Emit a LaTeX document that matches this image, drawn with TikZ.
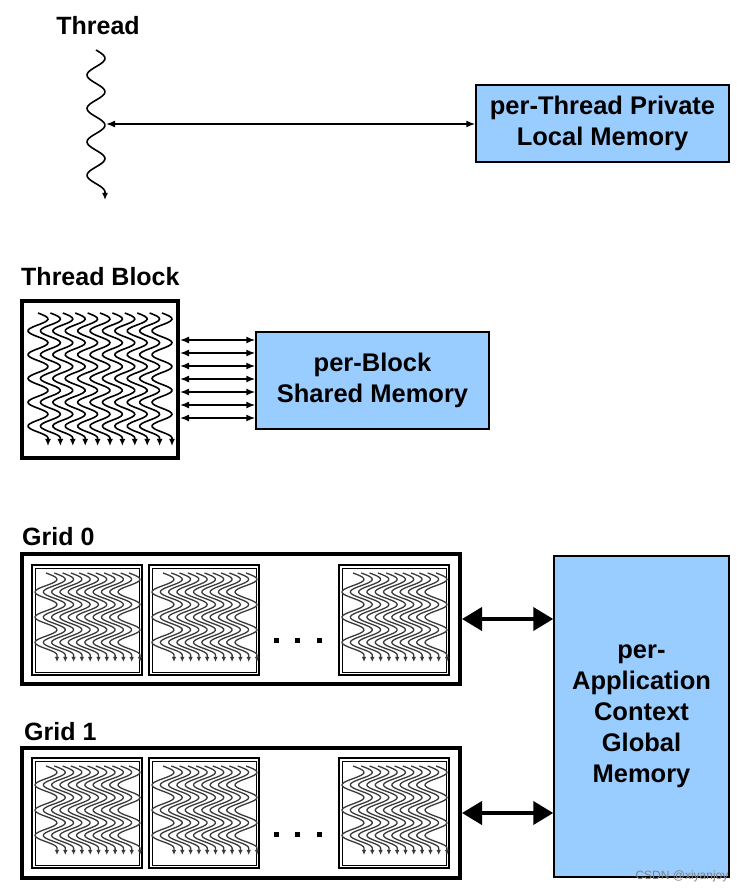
\documentclass[tikz,border=0pt]{standalone}
\usepackage{fontspec}
\setmainfont{Liberation Sans}
\usetikzlibrary{arrows.meta}
\tikzset{>=latex}
\definecolor{memblue}{HTML}{99CCFF}
\definecolor{threadgray}{HTML}{3A3A3A}
\tikzset{
  lbl/.style={inner sep=0pt, font=\fontsize{25}{30}\selectfont\bfseries},
  membox/.style={draw, line width=1.5pt, fill=memblue, align=center, inner sep=0pt, font=\fontsize{25.5}{31}\selectfont\bfseries},
  framebox/.style={draw, line width=4pt, inner sep=0pt},
  link/.style={{Latex[length=9pt,width=7pt]}-{Latex[length=9pt,width=7pt]}, line width=1.5pt},
  biglink/.style={{Triangle[length=20pt,width=23pt]}-{Triangle[length=20pt,width=23pt]}, line width=4pt},
  bthread/.style={-{Latex[length=7pt,width=6pt]}, line width=1.6pt},
  gthread/.style={-{Latex[length=5pt,width=4.5pt]}, threadgray, line width=1.3pt},
  gblock/.pic={
    \draw[line width=1.5pt] (0,0) rectangle (110,110);
    \draw[line width=1pt] (3,3) rectangle (107,107);
    \foreach \i in {0,...,10}
      \draw[gthread] plot[domain=0:1, samples=61, smooth] ({14+8.3*\i+11*sin(3.25*360*\x)}, {8+82*\x}) -- ++(0,7);
  }
}
\begin{document}
\begin{tikzpicture}[x=1pt, y=-1pt]
  \useasboundingbox (0,0) rectangle (746,892);
  \node[lbl] (thrlbl) at (98,26) {Thread};
  \node[membox, minimum width=253pt, minimum height=77pt] (local) at (602.5,123.5) {per-Thread Private\\Local Memory};
  \draw[bthread] plot[domain=0:1, samples=81, smooth] ({96+9*sin(4.25*360*\x)}, {50+142*\x}) -- ++(0,8);
  \coordinate (thr) at (106,124);
  \draw[link] (thr) -- (thr -| local.west);

  \node[lbl, anchor=west] (blklbl) at (21,277) {Thread Block};
  \node[framebox, minimum width=156pt, minimum height=157pt] (tblock) at (100,379.5) {};
  \foreach \i in {0,...,10}
    \draw[bthread] plot[domain=0:1, samples=81, smooth] ({38+12.4*\i+10*sin(5.25*360*\x)}, {313+125*\x}) -- ++(0,8);
  \node[membox, minimum width=233pt, minimum height=97pt] (shared) at (372.5,380.5) {per-Block\\Shared Memory};
  \foreach \y in {340,353,...,418}
    \draw[link] (tblock.east |- 0,\y) -- (shared.west |- 0,\y);

  \node[lbl, anchor=west] (g0lbl) at (22,537) {Grid 0};
  \node[framebox, minimum width=438pt, minimum height=130pt] (grid0) at (241,619) {};
  \foreach \bx in {32,149,339}
    \pic at (\bx,565) {gblock};
  \foreach \dx in {276,297,319}
    \fill (\dx-2.5,638) rectangle ++(5,5);

  \node[lbl, anchor=west] (g1lbl) at (24,732) {Grid 1};
  \node[framebox, minimum width=438pt, minimum height=130pt] (grid1) at (241,813) {};
  \foreach \bx in {32,149,339}
    \pic at (\bx,758) {gblock};
  \foreach \dx in {276,297,319}
    \fill (\dx-2.5,832) rectangle ++(5,5);

  \node[membox, minimum width=175pt, minimum height=321pt] (global) at (641.5,716.5) {per-\\Application\\Context\\Global\\Memory};
  \draw[biglink] (grid0.east) -- (grid0.east -| global.west);
  \draw[biglink] (grid1.east) -- (grid1.east -| global.west);

  \node[text=gray, font=\fontsize{12}{14}\selectfont] (wm) at (682,876) {CSDN @xiyanjoy};
\end{tikzpicture}
\end{document}
